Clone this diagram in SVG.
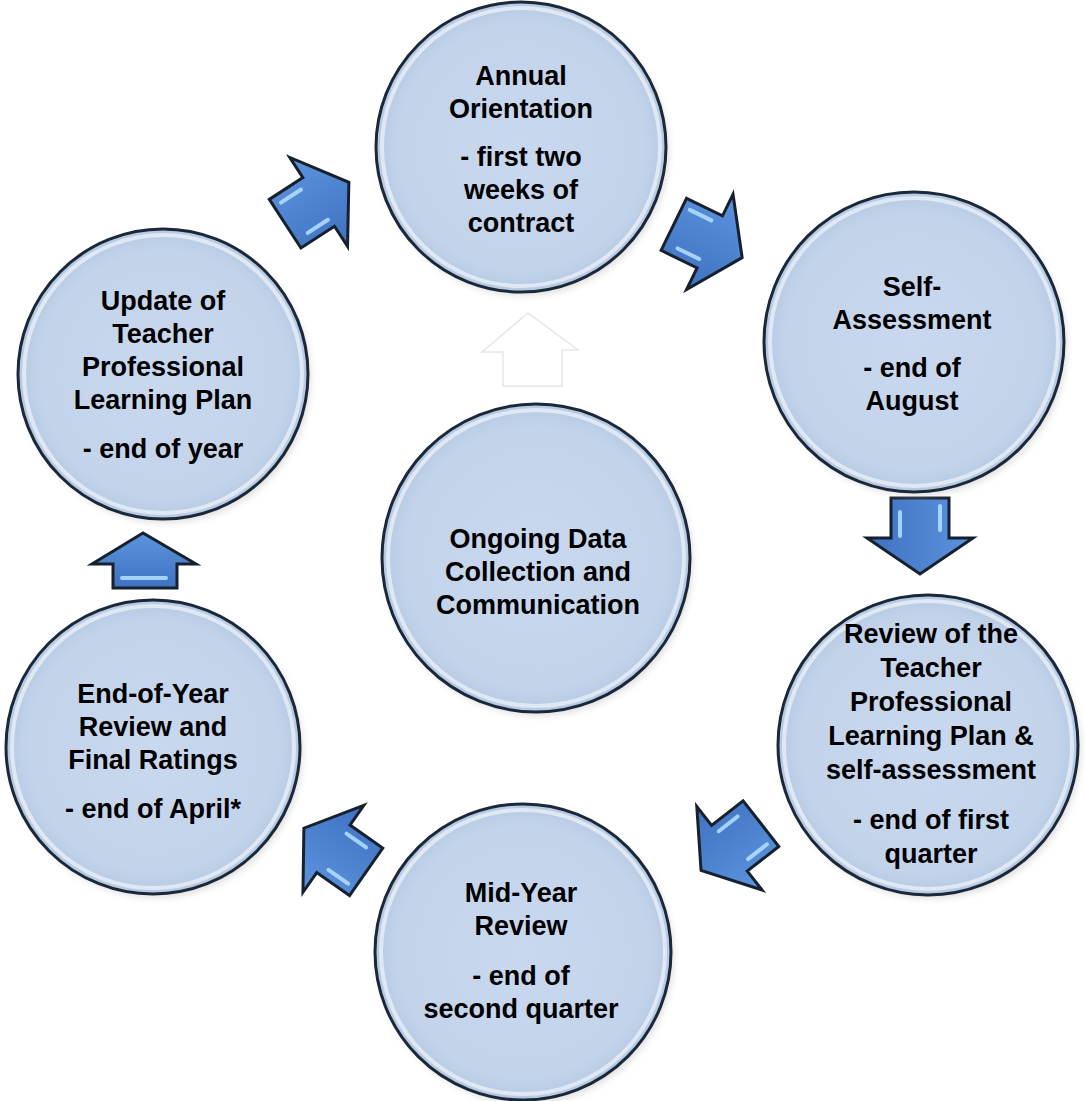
<svg xmlns="http://www.w3.org/2000/svg" xmlns:xlink="http://www.w3.org/1999/xlink" width="1085" height="1101" viewBox="0 0 1085 1101">
<style>
.node circle.body{fill:url(#cg);stroke:#1b2838;stroke-width:3}
.node circle.hl{fill:none;stroke:#ffffff;stroke-width:4;opacity:0.55}
.node circle.sh{fill:#c8c8c8;opacity:0.55;filter:url(#blur)}
.t{font-family:"Liberation Sans",Arial,sans-serif;font-weight:bold;font-size:27px;text-anchor:middle;fill:#000}
.arrow{fill:url(#ag);stroke:#17212e;stroke-width:3;stroke-linejoin:miter}
.streak{stroke:#b4e2ff;stroke-width:4;stroke-linecap:round;opacity:0.85}
.ghost{fill:#ffffff;stroke:#e6e6e6;stroke-width:1.5}
</style>
<defs>
<radialGradient id="cg" cx="0.5" cy="0.5" r="0.5">
<stop offset="0" stop-color="#c9d8ee"/>
<stop offset="0.85" stop-color="#c3d3ea"/>
<stop offset="1" stop-color="#b6c9e4"/>
</radialGradient>
<linearGradient id="ag" x1="0" y1="0" x2="0" y2="1">
<stop offset="0" stop-color="#5c93de"/>
<stop offset="1" stop-color="#3f72c1"/>
</linearGradient>
<filter id="blur" x="-20%" y="-20%" width="140%" height="140%"><feGaussianBlur stdDeviation="3"/></filter>
<g id="arr">
<polygon class="arrow" points="-38,-29 2,-29 2,-53 38,0 2,53 2,29 -38,29"/>
<line class="streak" x1="-30" y1="-20" x2="-6" y2="-20"/>
<line class="streak" x1="-24" y1="20" x2="0" y2="20"/>
</g>
</defs>
<rect width="1085" height="1101" fill="#ffffff"/>

<g id="connectors">
<use xlink:href="#arr" href="#arr" transform="translate(317,203) rotate(-33)"/>
<use xlink:href="#arr" href="#arr" transform="translate(708,241) rotate(26)"/>
<use xlink:href="#arr" href="#arr" transform="translate(920,536) rotate(90)"/>
<use xlink:href="#arr" href="#arr" transform="translate(731,847) rotate(142)"/>
<use xlink:href="#arr" href="#arr" transform="translate(335,850) rotate(215)"/>
<g>
<polygon class="arrow" points="113,588 113,564 92,564 143,533 196,564 177,564 177,588"/>
<line class="streak" x1="122" y1="578" x2="166" y2="578"/>
</g>
<polygon class="ghost" points="503,386 503,352 482,352 528,313 578,350 562,350 562,386"/>
</g>

<g id="n-orientation" class="node">
<circle class="sh" cx="524" cy="151" r="145"/>
<circle class="body" cx="521" cy="147" r="145"/>
<circle class="hl" cx="521" cy="147" r="139"/>
<text class="t" x="521" y="85">Annual</text>
<text class="t" x="521" y="118">Orientation</text>
<text class="t" x="521" y="166">- first two</text>
<text class="t" x="521" y="199">weeks of</text>
<text class="t" x="521" y="232">contract</text>
</g>

<g id="n-self" class="node">
<circle class="sh" cx="917" cy="346" r="150"/>
<circle class="body" cx="914" cy="342" r="150"/>
<circle class="hl" cx="914" cy="342" r="144"/>
<text class="t" x="912" y="296">Self-</text>
<text class="t" x="912" y="329">Assessment</text>
<text class="t" x="912" y="377">- end of</text>
<text class="t" x="912" y="410">August</text>
</g>

<g id="n-review" class="node">
<circle class="sh" cx="931" cy="749" r="150"/>
<circle class="body" cx="928" cy="745" r="150"/>
<circle class="hl" cx="928" cy="745" r="144"/>
<text class="t" x="931" y="643">Review of the</text>
<text class="t" x="931" y="677">Teacher</text>
<text class="t" x="931" y="711">Professional</text>
<text class="t" x="931" y="745">Learning Plan &amp;</text>
<text class="t" x="931" y="779">self-assessment</text>
<text class="t" x="931" y="829">- end of first</text>
<text class="t" x="931" y="863">quarter</text>
</g>

<g id="n-midyear" class="node">
<circle class="sh" cx="526" cy="956" r="148"/>
<circle class="body" cx="523" cy="952" r="148"/>
<circle class="hl" cx="523" cy="952" r="142"/>
<text class="t" x="521" y="902">Mid-Year</text>
<text class="t" x="521" y="935">Review</text>
<text class="t" x="521" y="985">- end of</text>
<text class="t" x="521" y="1018">second quarter</text>
</g>

<g id="n-endofyear" class="node">
<circle class="sh" cx="156" cy="751" r="147"/>
<circle class="body" cx="153" cy="747" r="147"/>
<circle class="hl" cx="153" cy="747" r="141"/>
<text class="t" x="153" y="703">End-of-Year</text>
<text class="t" x="153" y="736">Review and</text>
<text class="t" x="153" y="769">Final Ratings</text>
<text class="t" x="153" y="818">- end of April*</text>
</g>

<g id="n-update" class="node">
<circle class="sh" cx="166" cy="378" r="145"/>
<circle class="body" cx="163" cy="374" r="145"/>
<circle class="hl" cx="163" cy="374" r="139"/>
<text class="t" x="163" y="310">Update of</text>
<text class="t" x="163" y="343">Teacher</text>
<text class="t" x="163" y="376">Professional</text>
<text class="t" x="163" y="409">Learning Plan</text>
<text class="t" x="163" y="458">- end of year</text>
</g>

<g id="n-ongoing" class="node">
<circle class="sh" cx="539" cy="562" r="154"/>
<circle class="body" cx="536" cy="558" r="154"/>
<circle class="hl" cx="536" cy="558" r="148"/>
<text class="t" x="538" y="548">Ongoing Data</text>
<text class="t" x="538" y="581">Collection and</text>
<text class="t" x="538" y="614">Communication</text>
</g>
</svg>
